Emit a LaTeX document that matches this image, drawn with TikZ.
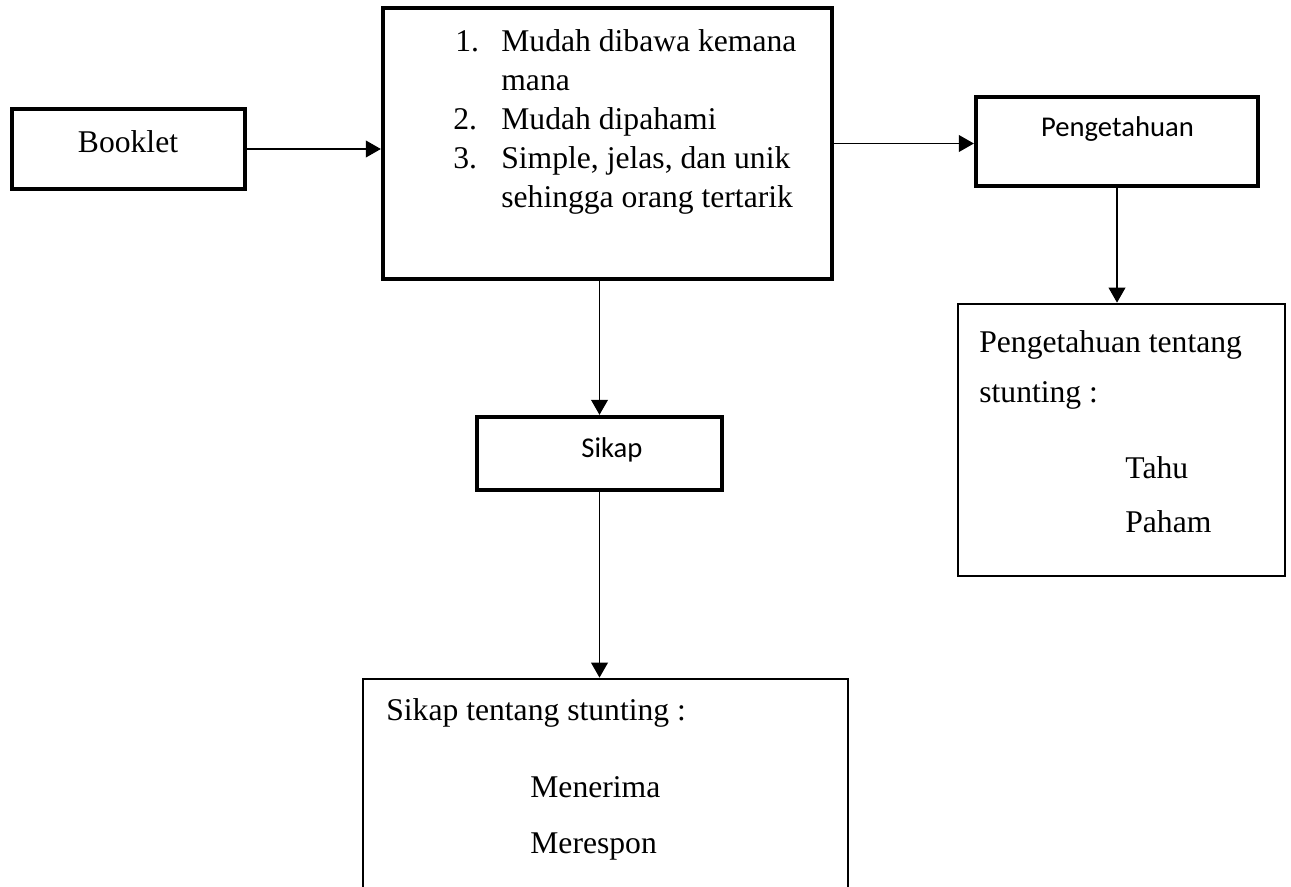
\documentclass[tikz,border=0pt]{standalone}
\usepackage{fontspec}
\setmainfont{Liberation Serif}
\newfontfamily\calibri{Carlito}
\usetikzlibrary{arrows.meta}

\tikzset{
  kotak/.style={draw, line width=2.5pt, rectangle, inner sep=0pt},
  kotaktipis/.style={draw, line width=1.6pt, rectangle, inner sep=0pt},
  panah/.style={line width=0.8pt, -{Triangle[length=8.5pt, width=9.5pt]}},
  teks/.style={font=\fontsize{18}{22}\selectfont, inner sep=0pt, anchor=base west},
  judul/.style={font=\calibri\fontsize{16.3}{20}\selectfont, inner sep=0pt, anchor=base}
}

\begin{document}
\begin{tikzpicture}[x=0.02cm, y=-0.02cm]
  \useasboundingbox (0,0) rectangle (1291,886);
  \clip (0,0) rectangle (1291,886);

  % Kotak
  \node[kotak, minimum width=4.66cm, minimum height=1.6cm] (booklet) at (128.5,149) {};
  \node[kotak, minimum width=8.98cm, minimum height=5.42cm] (daftar) at (607.5,143.5) {};
  \node[kotak, minimum width=5.64cm, minimum height=1.78cm] (peng) at (1117,141.5) {};
  \node[kotaktipis, minimum width=6.54cm, minimum height=5.44cm] (pengisi) at (1121.5,440) {};
  \node[kotak, minimum width=4.9cm, minimum height=1.46cm] (sikap) at (599.5,453.5) {};
  \node[kotaktipis, minimum width=9.7cm, minimum height=4.82cm] (sikapisi) at (605.5,799.5) {};

  % Teks
  \node[teks, anchor=base] (tbooklet) at (128,152) {Booklet};
  \node[teks] (no1) at (455,51) {1.};
  \node[teks] (isi1) at (501,51) {Mudah dibawa kemana};
  \node[teks] (isi1b) at (501,90) {mana};
  \node[teks] (no2) at (453,129) {2.};
  \node[teks] (isi2) at (501,129) {Mudah dipahami};
  \node[teks] (no3) at (453,168) {3.};
  \node[teks] (isi3) at (501,168) {Simple, jelas, dan unik};
  \node[teks] (isi3b) at (501,207) {sehingga orang tertarik};
  \node[judul] (tpeng) at (1117.5,136) {Pengetahuan};
  \node[judul] (tsikap) at (612,457) {Sikap};
  \node[teks] (pt1) at (979,352) {Pengetahuan tentang};
  \node[teks] (pt2) at (979,402) {stunting :};
  \node[teks] (tahu) at (1125,478) {Tahu};
  \node[teks] (paham) at (1125,532) {Paham};
  \node[teks] (st1) at (386,720) {Sikap tentang stunting :};
  \node[teks] (menerima) at (530,797) {Menerima};
  \node[teks] (merespon) at (530,853) {Merespon};

  % Panah
  \draw[panah] (booklet.east) -- (booklet.east -| daftar.west);
  \draw[panah] (daftar.east) -- (daftar.east -| peng.west);
  \draw[panah] (peng.south) -- (peng.south |- pengisi.north);
  \draw[panah] (daftar.south -| sikap.north) -- (sikap.north);
  \draw[panah] (sikap.south) -- (sikap.south |- sikapisi.north);
\end{tikzpicture}
\end{document}
